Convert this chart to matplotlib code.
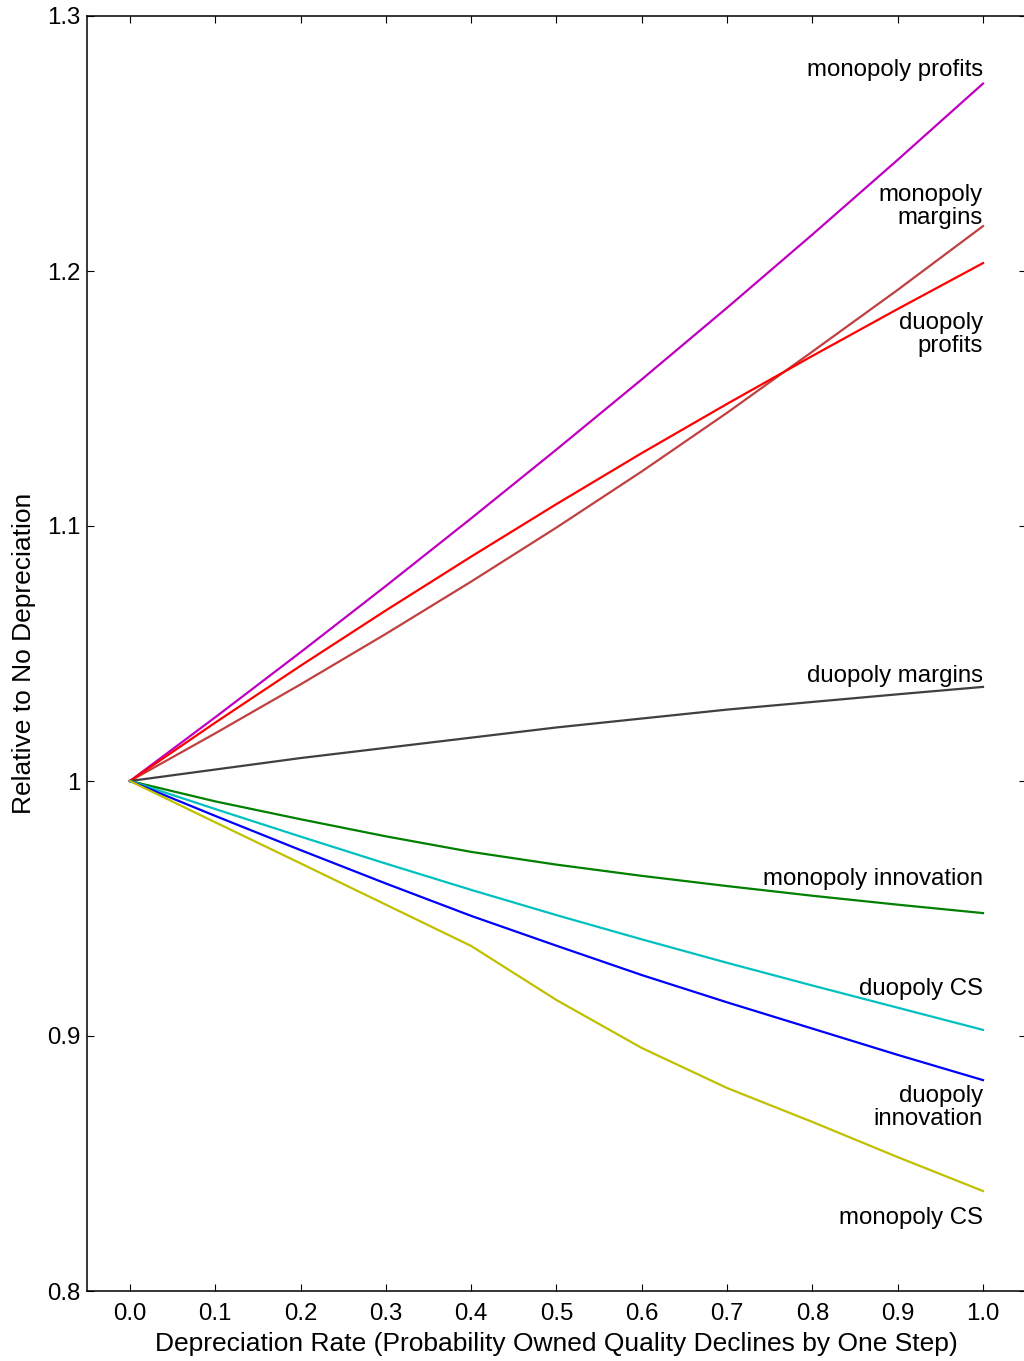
import matplotlib
matplotlib.use("Agg")
import matplotlib.pyplot as plt

plt.rcParams['font.family'] = ['Liberation Sans', 'DejaVu Sans']

x = [0.0, 0.1, 0.2, 0.3, 0.4, 0.5, 0.6, 0.7, 0.8, 0.9, 1.0]

monopoly_profits = [1.0, 1.0250, 1.0505, 1.0765, 1.1030, 1.1300, 1.1575, 1.1856, 1.2143, 1.2436, 1.2735]
monopoly_margins = [1.0, 1.0187, 1.0379, 1.0577, 1.0782, 1.0994, 1.1214, 1.1444, 1.1684, 1.1926, 1.2176]
duopoly_profits = [1.0, 1.0229, 1.0452, 1.0669, 1.0880, 1.1086, 1.1286, 1.1479, 1.1667, 1.1851, 1.2031]
duopoly_margins = [1.0, 1.0045, 1.0090, 1.0130, 1.0170, 1.0210, 1.0245, 1.0280, 1.0310, 1.0340, 1.0369]
monopoly_innovation = [1.0, 0.9920, 0.9850, 0.9783, 0.9722, 0.9672, 0.9628, 0.9588, 0.9550, 0.9515, 0.9482]
duopoly_cs = [1.0, 0.9890, 0.9782, 0.9676, 0.9573, 0.9474, 0.9379, 0.9287, 0.9198, 0.9111, 0.9024]
duopoly_innovation = [1.0, 0.9863, 0.9729, 0.9598, 0.9471, 0.9354, 0.9239, 0.9132, 0.9029, 0.8926, 0.8827]
monopoly_cs = [1.0, 0.9838, 0.9677, 0.9515, 0.9353, 0.9141, 0.8953, 0.8796, 0.8663, 0.8525, 0.8392]

series = [
    ("monopoly profits", monopoly_profits, "#c000c0", 1.2790),
    ("monopoly\nmargins", monopoly_margins, "#c04040", 1.2253),
    ("duopoly\nprofits", duopoly_profits, "#ff0000", 1.1751),
    ("duopoly margins", duopoly_margins, "#404040", 1.0410),
    ("monopoly innovation", monopoly_innovation, "#008000", 0.9617),
    ("duopoly CS", duopoly_cs, "#00c0c0", 0.9186),
    ("duopoly\ninnovation", duopoly_innovation, "#0000ff", 0.8719),
    ("monopoly CS", monopoly_cs, "#c0c000", 0.8288),
]

xticks = [0.0, 0.1, 0.2, 0.3, 0.4, 0.5, 0.6, 0.7, 0.8, 0.9, 1.0]
xticklabels = ["0.0", "0.1", "0.2", "0.3", "0.4", "0.5", "0.6", "0.7", "0.8", "0.9", "1.0"]
yticks = [0.8, 0.9, 1.0, 1.1, 1.2, 1.3]
yticklabels = ["0.8", "0.9", "1", "1.1", "1.2", "1.3"]

fig = plt.figure(figsize=(10.24, 13.61), dpi=100)
ax = fig.add_axes([87/1024, 70/1361, (1025.65-87)/1024, 1275/1361])

for label, vals, color, ly in series:
    ax.plot(x, vals, color=color, lw=1.6)
    ax.text(1.0, ly, label, ha='right', va='center', fontsize=17.3,
            linespacing=1.05, color='black')

ax.set_xlim(-0.0504, 1.05)
ax.set_ylim(0.8, 1.3)
ax.set_xticks(xticks)
ax.set_xticklabels(xticklabels)
ax.set_yticks(yticks)
ax.set_yticklabels(yticklabels)
ax.tick_params(direction='in', length=5, width=0.8, top=True, right=True,
               labelsize=17.3, color='black')
ax.tick_params(axis='x', pad=8.5)
ax.tick_params(axis='y', pad=5)
for sp in ax.spines.values():
    sp.set_linewidth(1.1)

ax.set_xlabel("Depreciation Rate (Probability Owned Quality Declines by One Step)",
              fontsize=19, labelpad=5)
ax.set_ylabel("Relative to No Depreciation", fontsize=19, labelpad=7.5)

fig.savefig("out.png", dpi=100)
